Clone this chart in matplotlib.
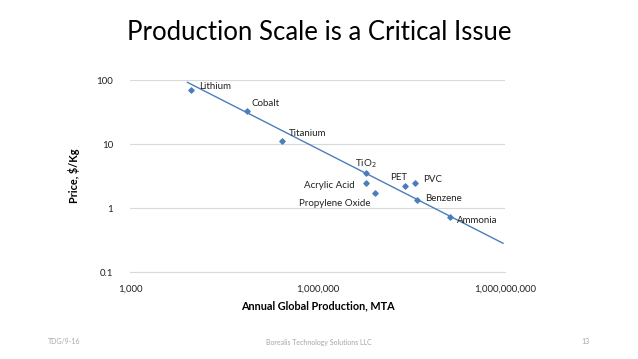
import matplotlib.pyplot as plt
import numpy as np
from matplotlib.ticker import FixedLocator, FuncFormatter, NullLocator

plt.rcParams["font.family"] = ["Lato", "DejaVu Sans"]

# data (log-log scatter)
materials = ["Lithium", "Cobalt", "Titanium", "TiO$_2$", "Acrylic Acid",
             "Propylene Oxide", "PET", "PVC", "Benzene", "Ammonia"]
production_mta = [9.5e3, 7.5e4, 2.7e5, 6.0e6, 5.9e6, 8.3e6, 2.5e7, 3.6e7, 3.9e7, 1.3e8]
price_per_kg = [70, 33, 11, 3.5, 2.5, 1.7, 2.2, 2.5, 1.33, 0.72]
# label offsets in pixels (dx, dy) and alignment
label_offsets = [(8, 3), (4, 7), (7, 8), (0, 10), (-11, -3), (-4, -10),
                 (-6, 9), (8, 3), (8, 2), (7, -3)]
label_align = ["left", "left", "left", "center", "right", "right",
               "center", "left", "left", "left"]

# power-law trendline as shown in the reference: price = coef * production ** exponent
trend_coef = 8230
trend_exp = -0.498
trend_range = (8.3e3, 9.3e8)
x_ticks = [1e3, 1e6, 1e9]
y_ticks = [0.1, 1, 10, 100]

blue = "#4A7EBB"

fig = plt.figure(figsize=(6.38, 3.59), dpi=100)
ax = fig.add_axes([130 / 638, 1 - 272 / 359, 375 / 638, 192 / 359])

tx = np.logspace(np.log10(trend_range[0]), np.log10(trend_range[1]), 50)
ax.plot(tx, trend_coef * tx ** trend_exp, color=blue, lw=1.0, zorder=2)

ax.scatter(production_mta, price_per_kg, marker="D", s=7, color=blue, zorder=3)
for name, x, y, off, ha in zip(materials, production_mta, price_per_kg, label_offsets, label_align):
    ax.annotate(name, (x, y), xytext=off, textcoords="offset pixels",
                ha=ha, va="center", fontsize=7, color="#222222")

ax.set_xscale("log")
ax.set_yscale("log")
ax.set_xlim(x_ticks[0], x_ticks[-1])
ax.set_ylim(y_ticks[0], y_ticks[-1])
ax.xaxis.set_major_locator(FixedLocator(x_ticks))
ax.yaxis.set_major_locator(FixedLocator(y_ticks))
ax.xaxis.set_minor_locator(NullLocator())
ax.yaxis.set_minor_locator(NullLocator())
ax.xaxis.set_major_formatter(FuncFormatter(lambda v, p: f"{v:,.0f}"))
ax.yaxis.set_major_formatter(FuncFormatter(lambda v, p: f"{v:g}"))
ax.tick_params(length=0, labelsize=7, colors="#222222", pad=9)
ax.tick_params(axis="y", pad=12)
for side in ["top", "right", "left"]:
    ax.spines[side].set_visible(False)
ax.spines["bottom"].set_color("#D9D9D9")
ax.grid(axis="y", color="#D9D9D9", lw=0.8)
ax.set_axisbelow(True)

ax.set_xlabel("Annual Global Production, MTA", fontsize=7.8, fontweight="bold", labelpad=5)
ax.set_ylabel("Price, $/Kg", fontsize=7.8, fontweight="bold", labelpad=12)

fig.text(0.5, 1 - 33 / 359, "Production Scale is a Critical Issue",
         ha="center", va="center", fontsize=18.5)
fig.text(48 / 638, 1 - 342 / 359, "TDG/9-16", fontsize=5, color="#A6A6A6", va="center")
fig.text(0.5, 1 - 342 / 359, "Borealis Technology Solutions LLC", fontsize=5,
         color="#A6A6A6", ha="center", va="center")
fig.text(585 / 638, 1 - 342 / 359, "13", fontsize=5, color="#A6A6A6",
         ha="center", va="center")

fig.savefig("out.png", dpi=100)
